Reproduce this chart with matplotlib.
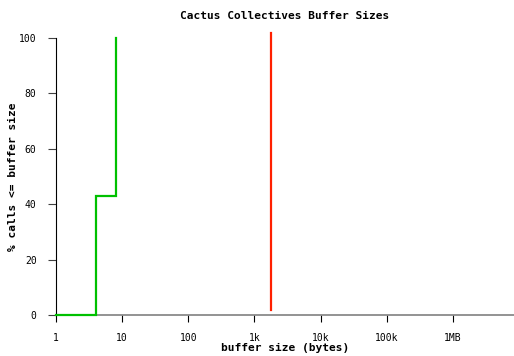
import matplotlib
matplotlib.use('Agg')
import matplotlib.pyplot as plt

# cumulative distribution of collective buffer sizes
green_sizes = [1, 4, 4, 8, 8]
green_pct = [0, 0, 43, 43, 100]

# single buffer size seen for the other series
red_size = 1750
red_low, red_high = 2, 102

xticks = [1, 10, 100, 1e3, 1e4, 1e5, 1e6]
xticklabels = ['1', '10', '100', '1k', '10k', '100k', '1MB']
yticks = [0, 20, 40, 60, 80, 100]

plt.rcParams['font.family'] = 'DejaVu Sans Mono'

fig = plt.figure(figsize=(5.14, 3.56), dpi=100)
ax = fig.add_axes([0.109, 0.115, 0.891, 0.778])

ax.plot(green_sizes, green_pct, color='#00c000', linewidth=1.6,
        solid_joinstyle='miter', clip_on=False, zorder=5)
ax.plot([red_size, red_size], [red_low, red_high], color='#ff2000',
        linewidth=1.6, clip_on=False, zorder=5)

ax.set_xscale('log')
ax.set_xlim(1, 8.4e6)
ax.set_ylim(0, 100)
ax.set_xticks(xticks)
ax.set_xticklabels(xticklabels)
ax.minorticks_off()
ax.set_yticks(yticks)

for side in ['top', 'right']:
    ax.spines[side].set_visible(False)
ax.spines['left'].set_color('black')
ax.spines['bottom'].set_color('#808080')
ax.spines['bottom'].set_linewidth(1.2)

ax.tick_params(axis='y', direction='out', length=6, color='#404040', labelsize=7, pad=8)
ax.tick_params(axis='x', direction='out', length=5, color='black', labelsize=7, pad=8)

ax.set_title('Cactus Collectives Buffer Sizes', fontsize=8, fontweight='bold', pad=14)
ax.set_xlabel('buffer size (bytes)', fontsize=8, fontweight='bold', labelpad=0)
ax.set_ylabel('% calls <= buffer size', fontsize=8, fontweight='bold', labelpad=1)

fig.savefig('out.png', dpi=100)
